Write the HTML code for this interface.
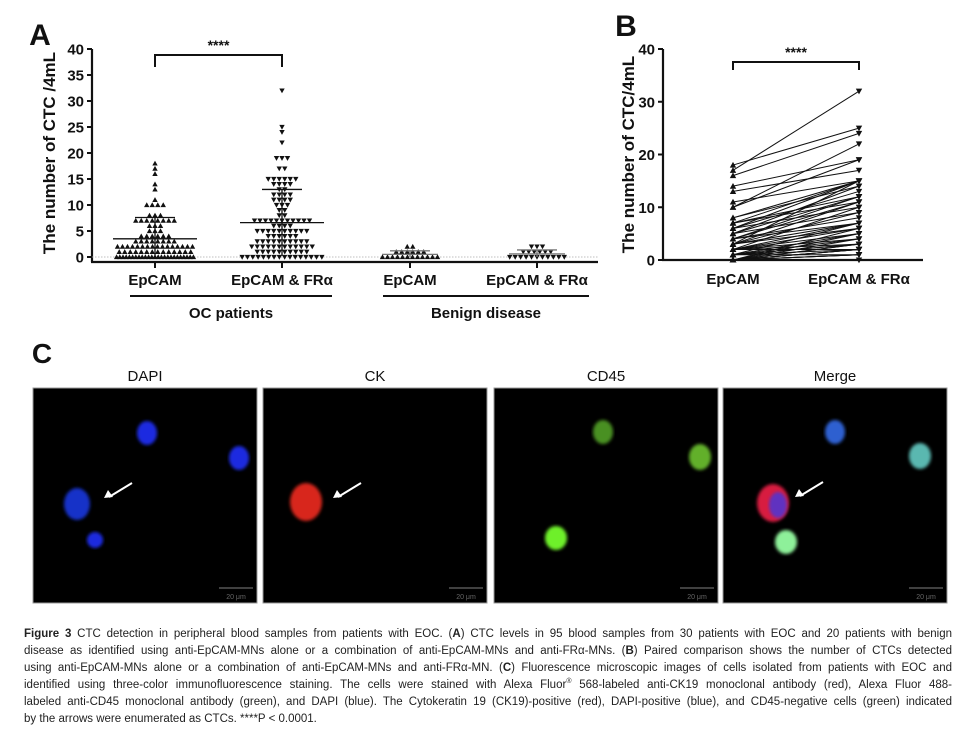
<!DOCTYPE html>
<html><head><meta charset="utf-8">
<style>
body{margin:0;background:#fff;width:976px;height:738px;overflow:hidden;position:relative;font-family:"Liberation Sans",sans-serif}
svg{position:absolute;left:0;top:0}
.cap{position:absolute;left:24px;width:928px;font-family:"Liberation Sans Narrow","Liberation Sans",sans-serif;font-size:11.5px;color:#222;white-space:nowrap;text-align:justify;text-align-last:justify;line-height:17px}
.cap.last{text-align-last:left}
.cap sup{font-size:7px;line-height:0}
</style></head><body>
<svg id="fig" width="976" height="738" xmlns="http://www.w3.org/2000/svg">
<defs>
<filter id="blur"><feGaussianBlur stdDeviation="1.6"/></filter>
</defs>
</svg>
<div class="cap" style="top:626px"><b>Figure 3</b> CTC detection in peripheral blood samples from patients with EOC. (<b>A</b>) CTC levels in 95 blood samples from 30 patients with EOC and 20 patients with benign</div>
<div class="cap" style="top:643px">disease as identified using anti-EpCAM-MNs alone or a combination of anti-EpCAM-MNs and anti-FRα-MNs. (<b>B</b>) Paired comparison shows the number of CTCs detected</div>
<div class="cap" style="top:660px">using anti-EpCAM-MNs alone or a combination of anti-EpCAM-MNs and anti-FRα-MN. (<b>C</b>) Fluorescence microscopic images of cells isolated from patients with EOC and</div>
<div class="cap" style="top:677px">identified using three-color immunofluorescence staining. The cells were stained with Alexa Fluor<sup>®</sup> 568-labeled anti-CK19 monoclonal antibody (red), Alexa Fluor 488-</div>
<div class="cap" style="top:694px">labeled anti-CD45 monoclonal antibody (green), and DAPI (blue). The Cytokeratin 19 (CK19)-positive (red), DAPI-positive (blue), and CD45-negative cells (green) indicated</div>
<div class="cap last" style="top:711px">by the arrows were enumerated as CTCs. ****P &lt; 0.0001.</div>
<script>
// ---- Panel A data ----
const groupsA = ["EpCAM", "EpCAM & FRα", "EpCAM", "EpCAM & FRα"];
const ocEpcam = [0,0,0,0,0,0,0,0,0,0,0,0,0,0,0,0,0,0,0,0,0,0,0,0,0,1,1,1,1,1,1,1,1,1,1,1,1,1,1,2,2,2,2,2,2,2,2,2,2,2,2,2,2,2,2,3,3,3,3,3,3,3,3,4,4,4,4,4,4,5,5,5,6,6,6,7,7,7,7,7,7,7,7,8,8,8,10,10,10,10,11,13,14,16,17,18];
const ocCombined = [0,0,0,0,0,0,0,0,0,0,0,0,0,0,0,0,1,1,1,1,1,1,1,1,1,1,2,2,2,2,2,2,2,2,2,2,2,2,3,3,3,3,3,3,3,3,3,3,4,4,4,4,4,4,5,5,5,5,5,5,5,5,5,5,6,6,6,6,7,7,7,7,7,7,7,7,7,7,7,8,8,9,9,10,10,10,11,11,11,11,12,12,12,12,13,13,14,14,14,14,15,15,15,15,15,15,17,17,19,19,19,22,24,25,32];
const benEpcam = [0,0,0,0,0,0,0,0,0,0,0,0,1,1,1,1,1,1,2,2];
const benCombined = [0,0,0,0,0,0,0,0,0,0,0,1,1,1,1,1,1,2,2,2];
const ticksA = [0,5,10,15,20,25,30,35,40];
// ---- Panel B data (paired) ----
const pairBefore = [18,17,16,14,13,11,10,10,8,8,7,7,7,6,6,6,5,5,5,4,4,4,4,3,3,3,3,3,2,2,2,2,2,2,2,1,1,1,1,1,1,1,0,0,0,0,0,0,0,0,0,0,0,0];
const pairAfter  = [25,32,24,19,17,15,22,19,15,14,15,12,11,15,13,10,14,12,9,11,12,8,7,15,11,9,7,6,10,7,5,6,4,3,2,7,5,4,3,2,1,3,6,4,2,1,2,3,5,1,0,2,1,3];
const ticksB = [0,10,20,30,40];
const catsB = ["EpCAM", "EpCAM & FRα"];

const svg = document.getElementById('fig');
const NS = "http://www.w3.org/2000/svg";
function mk(tag, attrs, parent){const e=document.createElementNS(NS,tag);for(const k in attrs)e.setAttribute(k,attrs[k]);(parent||svg).appendChild(e);return e;}
function txt(x,y,s,size,weight,anchor,parent){const t=mk('text',{x:x,y:y,'font-size':size,'font-weight':weight||'normal','text-anchor':anchor||'middle','font-family':'Liberation Sans, sans-serif',fill:'#111'},parent);t.textContent=s;return t;}
function tri(x,y,up,parent,s){s=s||3.6;const p=up?`${x},${y-s} ${x-s},${y+s*0.8} ${x+s},${y+s*0.8}`:`${x},${y+s} ${x-s},${y-s*0.8} ${x+s},${y-s*0.8}`;return mk('polygon',{points:p,fill:'#111'},parent);}

// ===== Panel A =====
const gA = mk('g',{});


const aX0=92, aX1=598, aY0=257, aY40=49;
const yA = v => aY0 - (v/40)*(aY0-aY40);
const xA = i => [155,282,410,537][i];
txt(40,45,'A',30,'bold','middle',gA);
mk('line',{x1:aX0,y1:aY40,x2:aX0,y2:262,stroke:'#111','stroke-width':2.2},gA);
mk('line',{x1:aX0-1,y1:262,x2:aX1,y2:262,stroke:'#111','stroke-width':2.2},gA);
mk('line',{x1:aX0,y1:yA(0),x2:aX1,y2:yA(0),stroke:'#aaa','stroke-width':0.8,'stroke-dasharray':'1.5,1.5'},gA);
ticksA.forEach(t=>{
  mk('line',{x1:aX0-5,y1:yA(t),x2:aX0,y2:yA(t),stroke:'#111','stroke-width':2},gA);
  const tl=txt(aX0-8,yA(t)+5.5,String(t),15,'bold','end',gA);
  
});
const yt=txt(0,0,'The number of CTC /4mL',17,'bold','middle',gA);
yt.setAttribute('transform',`translate(55,${(aY0+aY40)/2}) rotate(-90)`);

groupsA.forEach((g,i)=>{
  mk('line',{x1:xA(i),y1:262,x2:xA(i),y2:268,stroke:'#111','stroke-width':2},gA);
  const l=txt(xA(i),285,g,15,'bold','middle',gA);
  
});
mk('line',{x1:130,y1:296,x2:332,y2:296,stroke:'#111','stroke-width':2},gA);
mk('line',{x1:383,y1:296,x2:589,y2:296,stroke:'#111','stroke-width':2},gA);
txt(231,318,'OC patients',15,'bold','middle',gA);
txt(486,318,'Benign disease',15,'bold','middle',gA);
mk('path',{d:`M${xA(0)},67 V55 H${xA(1)} V67`,fill:'none',stroke:'#111','stroke-width':2},gA);
txt((xA(0)+xA(1))/2,50,'****',14,'bold','middle',gA);
function swarm(vals,gi,up,w){
  const counts={};vals.forEach(v=>counts[v]=(counts[v]||0)+1);
  Object.keys(counts).forEach(k=>{
    const n=counts[k];
    const sp=Math.min(5.5,w/n);
    for(let j=0;j<n;j++){
      const x=xA(gi)+(j-(n-1)/2)*sp;
      const p=tri(x,yA(+k),up,gA,2.7);
      
      
    }
  });
  const m=vals.reduce((a,b)=>a+b,0)/vals.length;
  const sd=Math.sqrt(vals.reduce((a,b)=>a+(b-m)*(b-m),0)/(vals.length-1));
  const col=gi>=2?'#777':'#111';
  const hw=gi>=2?28:42;
  mk('line',{x1:xA(gi)-hw,y1:yA(m),x2:xA(gi)+hw,y2:yA(m),stroke:col,'stroke-width':1.3},gA);
  mk('line',{x1:xA(gi),y1:yA(Math.max(0,m-sd)),x2:xA(gi),y2:yA(m+sd),stroke:col,'stroke-width':1.3},gA);
  mk('line',{x1:xA(gi)-20,y1:yA(m+sd),x2:xA(gi)+20,y2:yA(m+sd),stroke:col,'stroke-width':1.3},gA);
}
swarm(ocEpcam,0,true,80);
swarm(ocCombined,1,false,85);
swarm(benEpcam,2,true,60);
swarm(benCombined,3,false,60);

// ===== Panel B =====
const gB = mk('g',{});


const bX0=663,bX1=923,bY0=260,bY40=49;
const yB=v=>bY0-(v/40)*(bY0-bY40);
const xB=i=>[733,859][i];
txt(626,36,'B',30,'bold','middle',gB);
mk('line',{x1:bX0,y1:bY40,x2:bX0,y2:bY0,stroke:'#111','stroke-width':2.2},gB);
mk('line',{x1:bX0-1,y1:bY0,x2:bX1,y2:bY0,stroke:'#111','stroke-width':2.2},gB);
ticksB.forEach(t=>{
  mk('line',{x1:bX0-5,y1:yB(t),x2:bX0,y2:yB(t),stroke:'#111','stroke-width':2},gB);
  txt(bX0-8,yB(t)+5.5,String(t),15,'bold','end',gB);
});
const ytb=txt(0,0,'The number of CTC/4mL',17,'bold','middle',gB);
ytb.setAttribute('transform',`translate(634,${(bY0+bY40)/2}) rotate(-90)`);

catsB.forEach((c,i)=>{txt(xB(i),284,c,15,'bold','middle',gB);});
mk('path',{d:`M${xB(0)},70 V62 H${xB(1)} V70`,fill:'none',stroke:'#111','stroke-width':2},gB);
txt((xB(0)+xB(1))/2,57,'****',14,'bold','middle',gB);
pairBefore.forEach((b,i)=>{
  const l=mk('line',{x1:xB(0),y1:yB(b),x2:xB(1),y2:yB(pairAfter[i]),stroke:'#111','stroke-width':1},gB);
  
  tri(xB(0),yB(b),true,gB,3.2);
  tri(xB(1),yB(pairAfter[i]),false,gB,3.2);
});

// ===== Panel C =====
const gC=mk('g',{});


txt(42,363,'C',28,'bold','middle',gC);
const panelsC=[{t:'DAPI',x:33},{t:'CK',x:263},{t:'CD45',x:494},{t:'Merge',x:723}];
panelsC.forEach((p,i)=>{
  txt(p.x+112,381,p.t,15,'normal','middle',gC);
  const r=mk('rect',{x:p.x,y:388,width:224,height:215,fill:'#000',stroke:'#999','stroke-width':1},gC);
  
  mk('line',{x1:p.x+186,y1:588,x2:p.x+220,y2:588,stroke:'#555','stroke-width':1.5},gC);
  txt(p.x+203,599,'20 μm',7,'normal','middle',gC).setAttribute('fill','#666');
});
function cell(cx,cy,rx,ry,col,parent){const e=mk('ellipse',{cx:cx,cy:cy,rx:rx,ry:ry,fill:col,filter:'url(#blur)'},parent||gC);return e;}
function arrow(x,y){mk('line',{x1:x+28,y1:y-15,x2:x+5,y2:y-1,stroke:'#fff','stroke-width':2},gC);mk('polygon',{points:`${x},${y} ${x+4},${y-8} ${x+9},${y-1}`,fill:'#fff'},gC);}
cell(147,433,10,12,'#1a2be0');cell(239,458,10,12,'#1a2be0');cell(77,504,13,16,'#1530c8');cell(95,540,8,8,'#1a2be0');arrow(104,498);
cell(306,502,16,19,'#d8261a');arrow(333,498);
cell(603,432,10,12,'#4a9020');cell(700,457,11,13,'#62b02a');cell(556,538,11,12,'#6ef02a');
cell(835,432,10,12,'#2d60d0');cell(920,456,11,13,'#5ab8b0');cell(786,542,11,12,'#8ef09a');
cell(773,503,16,19,'#d81a40');cell(778,505,9,13,'#6030c0');arrow(795,497);
</script>
</body></html>
